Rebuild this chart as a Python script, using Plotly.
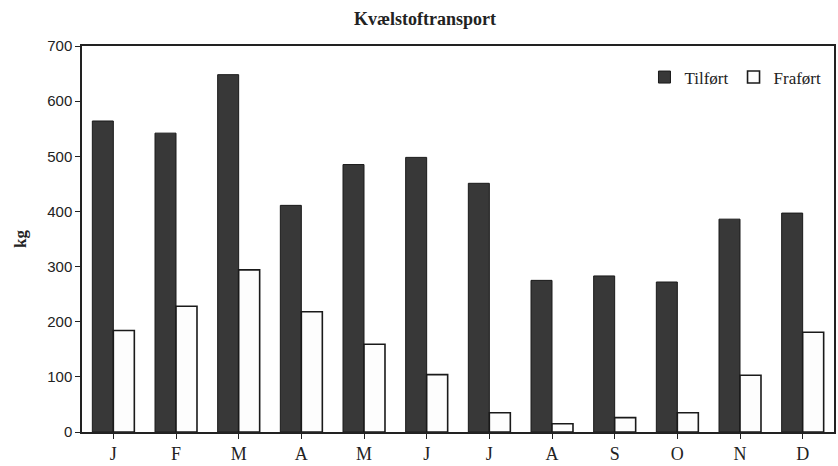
"""Kvælstoftransport - monthly nitrogen transport, recreated with Plotly"""

import plotly.graph_objects as go

months = ["J", "F", "M", "A", "M", "J", "J", "A", "S", "O", "N", "D"]
tilfoert = [564, 542, 648, 411, 485, 498, 451, 275, 283, 272, 386, 397]
frafoert = [184, 228, 294, 218, 159, 104, 35, 15, 26, 35, 103, 181]

# duplicate month letters need unique category positions
x_pos = list(range(len(months)))

fig = go.Figure()

fig.add_trace(
    go.Bar(
        x=x_pos,
        y=tilfoert,
        name="Tilført",
        marker=dict(color="#383838", line=dict(color="#1a1a1a", width=1)),
    )
)

fig.add_trace(
    go.Bar(
        x=x_pos,
        y=frafoert,
        name="Frafført".replace("ff", "f"),
        marker=dict(color="#fdfdfd", line=dict(color="#1a1a1a", width=1.6)),
    )
)

fig.update_layout(
    width=838,
    height=466,
    margin=dict(l=82, r=2, t=46, b=34),
    paper_bgcolor="white",
    plot_bgcolor="white",
    barmode="group",
    bargap=0.33,
    bargroupgap=0,
    title=dict(
        text="<b>Kvælstoftransport</b>",
        x=425 / 838,
        xref="container",
        xanchor="center",
        y=1 - 19 / 466,
        yref="container",
        yanchor="middle",
        font=dict(family="Liberation Serif", size=18, color="#222"),
    ),
    legend=dict(
        orientation="h",
        x=0.99,
        xanchor="right",
        y=0.965,
        yanchor="top",
        bgcolor="rgba(0,0,0,0)",
        font=dict(family="Liberation Serif", size=17, color="#222"),
        itemwidth=30,
        traceorder="normal",
    ),
    xaxis=dict(
        tickmode="array",
        tickvals=x_pos,
        ticktext=months,
        range=[-0.5, len(months) - 0.5],
        tickson="boundaries",
        ticks="outside",
        ticklen=5,
        tickcolor="#222",
        showline=True,
        linecolor="#222",
        linewidth=1.5,
        mirror=True,
        showgrid=False,
        tickfont=dict(family="Liberation Serif", size=18, color="#222"),
    ),
    yaxis=dict(
        range=[0, 700],
        tickvals=[0, 100, 200, 300, 400, 500, 600, 700],
        ticks="outside",
        ticklen=5,
        tickcolor="#222",
        showline=True,
        linecolor="#222",
        linewidth=1.5,
        mirror=True,
        showgrid=False,
        zeroline=False,
        tickfont=dict(family="Liberation Sans Narrow, Liberation Sans", size=15, color="#222"),
        title=dict(
            text="<b>kg</b>",
            standoff=16,
            font=dict(family="Liberation Serif", size=17, color="#222"),
        ),
    ),
)

# drop the browser's default body margin so the figure fills the window
fig.write_html(
    "out.html",
    config={"displayModeBar": False},
    post_script="document.body.style.margin='0';",
)
